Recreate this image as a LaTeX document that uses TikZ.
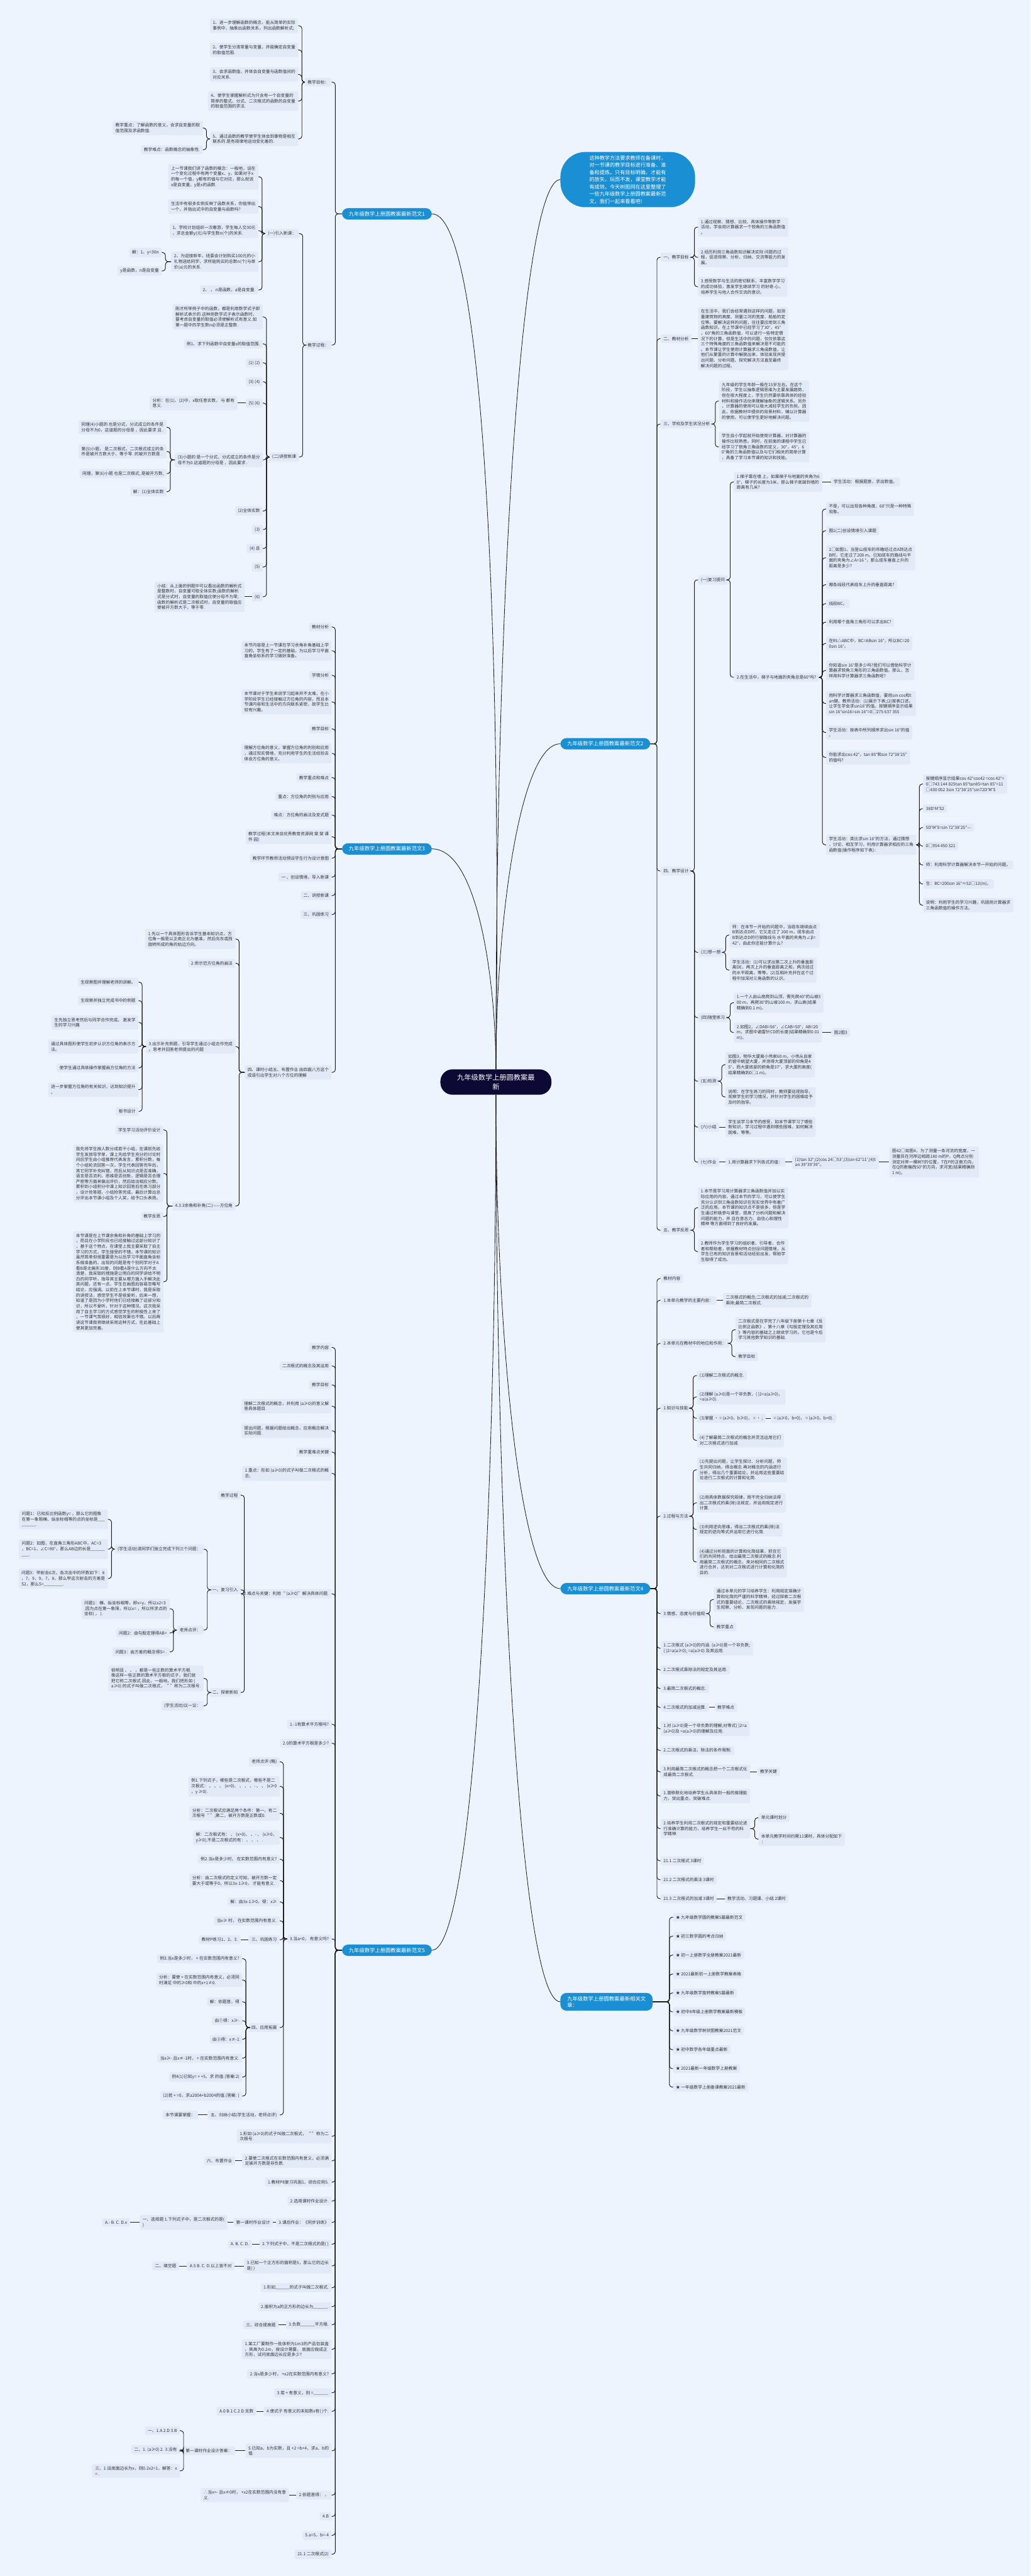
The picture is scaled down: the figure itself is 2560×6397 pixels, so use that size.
\documentclass[tikz,border=0pt]{standalone}
\usepackage{fontspec}
\setmainfont{Noto Sans CJK SC}
\usepackage{xcolor}
\usepackage{tikz}
\definecolor{bgc}{HTML}{EEF4FE}
\definecolor{leafc}{HTML}{E2EAF8}
\definecolor{brnc}{HTML}{1A8FD3}
\definecolor{rootc}{HTML}{0C0A35}
\definecolor{txtc}{HTML}{333333}
\definecolor{linec}{HTML}{1C1C1C}

\begin{document}
\begin{tikzpicture}[
  x=1pt, y=-1pt,
  font=\fontsize{10.5}{13.5}\selectfont,
  leaf/.style={fill=leafc, text=txtc, rounded corners=4pt, align=left, inner xsep=7pt, inner ysep=6pt},
  lft/.style={leaf, anchor=east},
  rgt/.style={leaf, anchor=west},
  brn/.style={fill=brnc, text=white, rounded corners=15pt, inner xsep=17pt, inner ysep=8pt, font=\fontsize{13}{16}\selectfont},
  rootbox/.style={fill=rootc, text=white, rounded corners=30pt, align=center, minimum width=276pt, minimum height=63pt, inner sep=4pt, font=\fontsize{17.5}{24}\selectfont},
  note/.style={fill=brnc, text=white, rounded corners=62pt, align=left, inner xsep=72pt, inner ysep=8.5pt, font=\fontsize{12.7}{18}\selectfont},
  lnk/.style={draw=linec, line width=1.5pt, rounded corners=7pt},
  crv/.style={draw=linec, line width=1.3pt},
]
\fill[bgc] (0,0) rectangle (2560,6397);
\useasboundingbox (0,0) rectangle (2560,6397);

\node[rootbox] (root) at (1232,2687) {九年级数学上册圆教案最\\新};
\node[note, anchor=west] (desc) at (1392,446) {这种教学方法要求教师在备课时，\\对一节课的教学目标进行准备、准\\备和提炼。只有目标明确，才能有\\的放矢，玩而不发，课堂教学才能\\有成效。今天树图网在这里整理了\\一些九年级数学上册圆教案最新范\\文，我们一起来看看吧!};
\node[brn, anchor=east] (b1) at (1073,531) {九年级数学上册圆教案最新范文1};
\node[brn, anchor=west] (b2) at (1392,1847) {九年级数学上册圆教案最新范文2};
\node[brn, anchor=east] (b3) at (1073,2108) {九年级数学上册圆教案最新范文3};
\node[brn, anchor=west] (b4) at (1392,3945) {九年级数学上册圆教案最新范文4};
\node[brn, anchor=east] (b5) at (1073,4843) {九年级数学上册圆教案最新范文5};
\node[brn, anchor=west, align=left] (rel) at (1392,4971) {九年级数学上册圆教案最新相关文\\章：};

\draw[crv] (desc.west) .. controls (1300,446) and (1232,1400) .. (root.north);
\draw[crv] (b1.east) .. controls (1210,531) and (1245,1700) .. (root.north);
\draw[crv] (b2.west) .. controls (1290,1847) and (1232,2300) .. (root.north);
\draw[crv] (b3.east) .. controls (1190,2108) and (1232,2450) .. (root.north);
\draw[crv] (b4.west) .. controls (1290,3945) and (1232,3300) .. (root.south);
\draw[crv] (rel.west) .. controls (1290,4971) and (1232,3800) .. (root.south);
\draw[crv] (b5.east) .. controls (1180,4843) and (1232,3700) .. (root.south);

\node[lft] (b1g) at (824,204) {教学目标：};
\node[lft] (b1p) at (824,857) {教学过程：};
\node[lft] (b1g1) at (741,64) {1、进一步理解函数的概念，能从简单的实际\\事例中，抽象出函数关系，列出函数解析式;};
\node[lft] (b1g2) at (741,124) {2、使学生分清常量与变量，并能确定自变量\\的取值范围.};
\node[lft] (b1g3) at (741,185) {3、会求函数值，并体会自变量与函数值间的\\对应关系.};
\node[lft] (b1g4) at (741,251) {4、使学生掌握解析式为只含有一个自变量的\\简单的整式、分式、二次根式的函数的自变量\\的取值范围的求法.};
\node[lft] (b1g5) at (741,345) {5、通过函数的教学使学生体会到事物是相互\\联系的.是有规律地运动变化着的.};
\node[lft] (b1g5a) at (504,318) {教学重点：了解函数的意义，会求自变量的取\\值范围及求函数值.};
\node[lft] (b1g5b) at (504,372) {教学难点：函数概念的抽象性.};
\node[lft] (b1p1) at (743,580) {(一)引入新课：};
\node[lft] (b1p2) at (743,1135) {(二)讲授新课};
\node[lft] (b1p1a) at (642,439) {上一节课我们讲了函数的概念：一般地，设在\\一个变化过程中有两个变量x、y，如果对于x\\的每一个值，y都有的值与它对应，那么就说\\x是自变量，y是x的函数.};
\node[lft] (b1p1b) at (642,513) {生活中有很多实例反映了函数关系，你能举出\\一个，并指出式中的自变量与函数吗?};
\node[lft] (b1p1c) at (642,573) {1、学校计划组织一次春游，学生每人交30元\\，求总金额y(元)与学生数n(个)的关系.};
\node[lft] (b1p1d) at (642,650) {2、为迎接新年，班委会计划购买100元的小\\礼物送给同学，求所能购买的总数n(个)与单\\价(a)元的关系.};
\node[lft] (b1p1e) at (642,720) {2、 ， n是函数，a是自变量.};
\node[lft] (b1p1da) at (402,627) {解：1、y=30n};
\node[lft] (b1p1db) at (402,673) {y是函数，n是自变量};
\node[lft] (b1p2a) at (653,787) {刚才所举例子中的函数，都是利用数学式子即\\解析式表示的.这种用数学式子表示函数时，\\要考虑自变量的取值必须使解析式有意义.如\\第一题中的学生数n必须是正整数.};
\node[lft] (b1p2b) at (653,854) {例1、求下列函数中自变量x的取值范围.};
\node[lft] (b1p2c) at (653,901) {(1) (2)};
\node[lft] (b1p2d) at (653,948) {(3) (4)};
\node[lft] (b1p2e) at (653,1001) {(5) (6)};
\node[lft] (b1p2f) at (653,1142) {(3)小题的 是一个分式，分式成立的条件是分\\母不为0.这道题的分母是 ，因此要求 .};
\node[lft] (b1p2g) at (653,1269) {(2)全体实数};
\node[lft] (b1p2h) at (653,1315) {(3)};
\node[lft] (b1p2i) at (653,1362) {(4) 且};
\node[lft] (b1p2j) at (653,1408) {(5)};
\node[lft] (b1p2k) at (653,1482) {(6)};
\node[lft] (b1p2ex) at (590,1001) {分析：在(1)、(2)中，x取任意实数， 与 都有\\意义.};
\node[lft] (b1p2kx) at (608,1482) {小结：从上面的例题中可以看出函数的解析式\\是整数时，自变量可取全体实数;函数的解析\\式是分式时，自变量的取值应使分母不为零;\\函数的解析式是二次根式时，自变量的取值应\\使被开方数大于、等于零.};
\node[lft] (b1p2fa) at (414,1061) {同理(4)小题的 也是分式，分式成立的条件是\\分母不为0，这道题的分母是 ，因此要求 且 .};
\node[lft] (b1p2fb) at (414,1121) {第(5)小题， 是二次根式，二次根式成立的条\\件是被开方数大于、等于零. 的被开方数是 .};
\node[lft] (b1p2fc) at (414,1176) {同理，第(6)小题 也是二次根式, 是被开方数,};
\node[lft] (b1p2fd) at (414,1221) {解：(1)全体实数};

\foreach \c in {b1g,b1p} \draw[lnk] (b1.west) -| ([xshift=9pt]\c.east) -- (\c.east);
\foreach \c in {b1g1,b1g2,b1g3,b1g4,b1g5} \draw[lnk] (b1g.west) -| ([xshift=9pt]\c.east) -- (\c.east);
\foreach \c in {b1g5a,b1g5b} \draw[lnk] (b1g5.west) -| ([xshift=9pt]\c.east) -- (\c.east);
\foreach \c in {b1p1,b1p2} \draw[lnk] (b1p.west) -| ([xshift=9pt]\c.east) -- (\c.east);
\foreach \c in {b1p1a,b1p1b,b1p1c,b1p1d,b1p1e} \draw[lnk] (b1p1.west) -| ([xshift=9pt]\c.east) -- (\c.east);
\foreach \c in {b1p1da,b1p1db} \draw[lnk] (b1p1d.west) -| ([xshift=9pt]\c.east) -- (\c.east);
\foreach \c in {b1p2a,b1p2b,b1p2c,b1p2d,b1p2e,b1p2f,b1p2g,b1p2h,b1p2i,b1p2j,b1p2k} \draw[lnk] (b1p2.west) -| ([xshift=9pt]\c.east) -- (\c.east);
\draw[lnk] (b1p2e.west) -- (b1p2ex.east);
\draw[lnk] (b1p2k.west) -- (b1p2kx.east);
\foreach \c in {b1p2fa,b1p2fb,b1p2fc,b1p2fd} \draw[lnk] (b1p2f.west) -| ([xshift=9pt]\c.east) -- (\c.east);

\node[lft] (b3a) at (824,1557) {教材分析};
\node[lft] (b3b) at (824,1616) {本节内容是上一节课在学习余角补角基础上学\\习的，学生有了一定的基础，为以后学习平面\\直角坐标系的学习做好准备。};
\node[lft] (b3c) at (824,1677) {学情分析};
\node[lft] (b3d) at (824,1743) {本节课对于学生来说学习起来并不太难，在小\\学阶段学生已经接触过方位角的内容，而且本\\节课内容和生活中的方向联系紧密，故学生比\\较有兴趣。};
\node[lft] (b3e) at (824,1810) {教学目标};
\node[lft] (b3f) at (824,1871) {理解方位角的意义，掌握方位角的判别和应用\\，通过现实情境，充分利用学生的生活经验去\\体会方位角的意义。};
\node[lft] (b3g) at (824,1931) {教学重点和难点};
\node[lft] (b3h) at (824,1978) {重点：方位角的判别与应用};
\node[lft] (b3i) at (824,2024) {难点：方位角的画法及变式题};
\node[lft] (b3j) at (824,2078) {教学过程(本文来自优秀教育资源网 斐 斐 课\\件 园)};
\node[lft] (b3k) at (824,2131) {教学环节教师活动预设学生行为设计意图};
\node[lft] (b3l) at (824,2178) {一 、创设情境，导入新课};
\node[lft] (b3m) at (824,2224) {二、讲授新课};
\node[lft] (b3n) at (824,2271) {三、巩固练习};
\node[lft] (b3o) at (824,2663) {四、课时小结五、布置作业 由四面八方这个\\成语引出学生对八个方位的理解};
\node[lft] (b3o1) at (585,2332) {1.先以一个具体图形告诉学生基本知识点，方\\位角一般是以正南正北为基准，然后向东或西\\旋转所成的角的始边方向。};
\node[lft] (b3o2) at (585,2392) {2.师示范方位角的画法};
\node[lft] (b3o3) at (585,2599) {3.出示补充例题，引导学生通过小组合作完成\\。思考并回答老师提出的问题};
\node[lft] (b3o4) at (585,2995) {4.3.3余角和补角(二)——方位角};
\node[lft] (b3o3a) at (344,2439) {生观察图并理解老师的讲解。};
\node[lft] (b3o3b) at (344,2485) {生观察并独立完成书中的例题};
\node[lft] (b3o3c) at (344,2539) {生先独立思考然后与同学合作完成。 激发学\\生的学习兴趣};
\node[lft] (b3o3d) at (344,2599) {通过具体图形使学生初步认识方位角的表示方\\法。};
\node[lft] (b3o3e) at (344,2652) {使学生通过具体操作掌握画方位角的方法};
\node[lft] (b3o3f) at (344,2706) {进一步掌握方位角的有关知识，达到知识提升\\。};
\node[lft] (b3o3g) at (344,2760) {板书设计};
\node[lft] (b3o4a) at (406,2806) {学生学习活动评价设计};
\node[lft] (b3o4b) at (406,2914) {我先将学生按人数分成若干小组，在课前先给\\学生发放导学单，课上先给学生充分的讨论时\\间后学生由小组推荐代表发言，累积分数，每\\个小组轮流回答一次，学生代表回答完毕后，\\其它同学补充纠错，然后从知识点是否准确，\\语言是否流利，思维是否创新，逻辑是否合理\\严密等方面来做出评价，然后给出相应分数。\\累积到小组积分中课上知识回答后在练习部分\\，设计抢答题，小组抢答完成。最后计算出总\\分评出本节课小组及个人奖，给予口头表扬。};
\node[lft] (b3o4c) at (406,3021) {教学反思};
\node[lft] (b3o4d) at (406,3183) {本节课是在上节课余角和补角的基础上学习的\\，而且在小学阶段也已经接触过这部分知识了\\，基于这个特点，在课堂上我主要采取了自主\\学习的方式，学生接受的不错，本节课的知识\\虽然简单但很重要是为以后学习平面直角坐标\\系做准备的。出现的问题是有个别同学对于A\\看B是北偏东30度，则B看A是什么方向不太\\清楚，我采取的措施是让明白的同学讲给不明\\白的同学听，指导其主要从哪方面入手解决此\\类问题，还有一点，学生在画图后容易忽略写\\结论，应强调。以前在上本节课时，我是采取\\的讲授法，感觉学生不是很爱听，后来一想，\\知道了是因为小学时他们已经接触了这部分知\\识，所以不爱听，针对于这种情况，这次我采\\用了自主学习的方式感觉学生的积极性上来了\\，一节课气氛很好，相信效果也不错。以后再\\讲这节课我将继续采用这种方式，在此基础上\\使其更加完善。};

\foreach \c in {b3a,b3b,b3c,b3d,b3e,b3f,b3g,b3h,b3i,b3j,b3k,b3l,b3m,b3n,b3o} \draw[lnk] (b3.west) -| ([xshift=9pt]\c.east) -- (\c.east);
\foreach \c in {b3o1,b3o2,b3o3,b3o4} \draw[lnk] (b3o.west) -| ([xshift=9pt]\c.east) -- (\c.east);
\foreach \c in {b3o3a,b3o3b,b3o3c,b3o3d,b3o3e,b3o3f,b3o3g} \draw[lnk] (b3o3.west) -| ([xshift=9pt]\c.east) -- (\c.east);
\foreach \c in {b3o4a,b3o4b,b3o4c,b3o4d} \draw[lnk] (b3o4.west) -| ([xshift=9pt]\c.east) -- (\c.east);

\node[rgt] (b2a) at (1641,639) {一、教学目标};
\node[rgt] (b2b) at (1641,841) {二、教材分析};
\node[rgt] (b2c) at (1641,1053) {三、学校及学生状况分析};
\node[rgt] (b2d) at (1641,2163) {四、教学设计};
\node[rgt] (b2e) at (1641,3055) {五、教学反思};
\node[rgt] (b2a1) at (1734,564) {1.通过观察、猜想、比较、具体操作等数学\\活动，学会用计算器求一个锐角的三角函数值\\。};
\node[rgt] (b2a2) at (1734,639) {2.经历利用三角函数知识解决实际 问题的过\\程，促进观察、分析、归纳、交流等能力的发\\展。};
\node[rgt] (b2a3) at (1734,712) {3.感受数学与生活的密切联系，丰富数学学习\\的成功体验，激发学生继续学习 的好奇 心，\\培养学生与他人合作交流的意识。};
\node[rgt] (b2b1) at (1734,841) {在生活中，我们会经常遇到这样的问题，如测\\量建筑物的高度、测量江河的宽度、船舶的定\\位等。要解决这样的问题，往往要应用到三角\\函数知识。在上节课中已经学习了30°，45°\\，60°角的三角函数值，可以进行一些特定情\\况下的计算，但是生活中的问题，仅仅依靠这\\三个特殊角度的三角函数值来解决是不可能的\\。本节课让学生使用计算器求三角函数值，让\\他们从繁重的计算中解脱出来，体验发现并提\\ 出问题、分析问题、探究解决方法直至最终\\解决问题的过程。};
\node[rgt] (b2c1) at (1786,996) {九年级的学生年龄一般在15岁左右。在这个\\阶段，学生以抽象逻辑思维为主要发展趋势，\\但在很大程度上，学生仍然要依靠具体的经验\\材料和操作活动来理解抽象的逻辑关系。另外\\，计算器的使用可以极大减轻学生的负担。因\\此，依据教材中提供的背景材料，辅以计算器\\的使用，可以使学生更好地解决问题。};
\node[rgt] (b2c2) at (1786,1110) {学生自小学起就开始使用计算器，对计算器的\\操作比较熟悉。同时，在前面的课程中学生已\\经学习了锐角三角函数的定义，30°，45°，6\\0°角的三角函数值以及与它们相关的简单计算\\，具备了学习本节课的知识和技能。};
\node[rgt] (b2d1) at (1734,1440) {(一)复习提问};
\node[rgt] (b2d3) at (1734,2365) {(三)想一想};
\node[rgt] (b2d4) at (1734,2527) {(四)随堂练习};
\node[rgt] (b2d5) at (1734,2685) {(五)检测};
\node[rgt] (b2d6) at (1734,2799) {(六)小结};
\node[rgt] (b2d7) at (1734,2886) {(七)作业};
\node[rgt] (b2d1a) at (1823,1197) {1.梯子靠在墙 上，如果梯子与地面的夹角为6\\0°，梯子的长度为3米，那么梯子底端到墙的\\距离有几米?};
\node[rgt] (b2d1ax) at (2064,1197) {学生活动：根据题意，求出数值。};
\node[rgt] (b2d1b) at (1823,1682) {2.在生活中，梯子与地面的夹角总是60°吗?};
\node[rgt] (b2q1) at (2052,1264) {不是，可以出现各种角度，60°只是一种特殊\\现象。};
\node[rgt] (b2q2) at (2052,1318) {图1(二)创设情境引入课题};
\node[rgt] (b2q3) at (2052,1385) {1□如图1，当登山缆车的吊箱经过点A到达点\\B时，它走过了200 m。已知缆车的路线与平\\面的夹角为∠A=16 °，那么缆车垂直上升的\\距离是多少?};
\node[rgt] (b2q4) at (2052,1452) {哪条线段代表缆车上升的垂直距离?};
\node[rgt] (b2q5) at (2052,1499) {线段BC。};
\node[rgt] (b2q6) at (2052,1545) {利用哪个直角三角形可以求出BC?};
\node[rgt] (b2q7) at (2052,1598) {在Rt△ABC中，BC=ABsin 16°，所以BC=20\\0sin 16°。};
\node[rgt] (b2q8) at (2052,1665) {你知道sin 16°是多少吗?我们可以借助科学计\\算器求锐角三角形的三角函数值。那么，怎\\样用科学计算器求三角函数呢?};
\node[rgt] (b2q9) at (2052,1747) {用科学计算器求三角函数值，要用sin cos和t\\an键。教师活动：(1)展示下表;(2)按表口述。\\让学生学会求sin16°的值。按键顺序显示结果\\sin 16°sin16=sin 16°=0□275 637 355};
\node[rgt] (b2q10) at (2052,1819) {学生活动：按表中所列顺序求出sin 16°的值\\。};
\node[rgt] (b2q11) at (2052,1881) {你能求出cos 42°，tan 85°和sin 72°38′25″\\的值吗?};
\node[rgt] (b2q12) at (2052,2098) {学生活动：类比求sin 16°的方法，通过猜想\\、讨论、相互学习，利用计算器求相应的三角\\函数值(操作程序如下表)：};
\node[rgt] (b2s1) at (2293,1947) {按键顺序显示结果cos 42°cos42 =cos 42°=\\0□743 144 825tan 85°tan85=tan 85°=11\\□430 052 3sin 72°38′25″sin72D′M′S};
\node[rgt] (b2s2) at (2293,2008) {38D′M′S2};
\node[rgt] (b2s3) at (2293,2055) {5D′M′S=sin 72°38′25″—};
\node[rgt] (b2s4) at (2293,2101) {0□954 450 321};
\node[rgt] (b2s5) at (2293,2148) {师：利用科学计算器解决本节一开始的问题。};
\node[rgt] (b2s6) at (2293,2195) {生：BC=200sin 16°≈52□12(m)。};
\node[rgt] (b2s7) at (2293,2248) {说明：利用学生的学习兴趣，巩固用计算器求\\三角函数值的操作方法。};
\node[rgt] (b2d3a) at (1812,2322) {师：在本节一开始的问题中，当缆车继续由点\\B到达点D时，它又走过了 200 m，缆车由点\\B到达点D的行驶路线与 水平面的夹角为∠β=\\42°，由此你还能计算什么?};
\node[rgt] (b2d3b) at (1812,2409) {学生活动：(1)可以求出第二次上升的垂直距\\离DE，两次上升的垂直距离之和，两次经过\\的水平距离，等等。(2)互相补充并在这个过\\程中加深对三角函数的认识。};
\node[rgt] (b2d4a) at (1823,2490) {1.一个人由山底爬到山顶，需先爬40°的山坡3\\00 m，再爬30°的山坡100 m，求山高(结果\\精确到0.1 m)。};
\node[rgt] (b2d4b) at (1823,2564) {2.如图2，∠DAB=56°，∠CAB=50°，AB=20\\m，求图中避雷针CD的长度(结果精确到0.01\\m)。};
\node[rgt] (b2d4bx) at (2065,2564) {图2图3};
\node[rgt] (b2d5a) at (1802,2644) {如图3，物华大厦离小伟家60 m，小伟从自家\\的窗中眺望大厦，并测得大厦顶部的仰角是4\\5°，而大厦底部的俯角是37°，求大厦的高度(\\结果精确到0□1 m)。};
\node[rgt] (b2d5b) at (1802,2724) {说明：在学生练习的同时，教师要巡视指导，\\观察学生的学习情况，并针对学生的困难给予\\及时的指导。};
\node[rgt] (b2d6a) at (1802,2799) {学生谈学习本节的感受，如本节课学习了哪些\\新知识，学习过程中遇到哪些困难，如何解决\\困难，等等。};
\node[rgt] (b2d7a) at (1802,2886) {1.用计算器求下列各式的值：};
\node[rgt] (b2d7b) at (1968,2886) {(1)tan 32°;(2)cos 24□53′;(3)sin 62°11′;(4)t\\an 39°39′39″。};
\node[rgt] (b2d7c) at (2209,2886) {图42□如图4，为了测量一条河流的宽度，一\\测量员在河岸边相距180 m的P，Q两点分别\\测定对岸一棵树T的位置，T在P的正南方向，\\在Q的南偏西50°的方向，求河宽(结果精确到\\1 m)。};
\node[rgt] (b2e1) at (1734,2999) {1.本节是学习用计算器求三角函数值并加以实\\际应用的内容，通过本节的学习，可以使学生\\充分认识到三角函数知识在现实世界中有着广\\泛的应用。本节课的知识点不是很多，但是学\\生通过积极参与课堂，提高了分析问题和解决\\问题的能力，并 且在意志力、自信心和理性\\精神 等方面得到了良好的发展。};
\node[rgt] (b2e2) at (1734,3108) {2.教师作为学生学习的组织者、引导者、合作\\者和帮助者，依据教材特点创设问题情境，从\\学生已有的知识背景和活动经验出发，帮助学\\生取得了成功。};

\foreach \c in {b2a,b2b,b2c,b2d,b2e} \draw[lnk] (b2.east) -| ([xshift=-9pt]\c.west) -- (\c.west);
\foreach \c in {b2a1,b2a2,b2a3} \draw[lnk] (b2a.east) -| ([xshift=-9pt]\c.west) -- (\c.west);
\draw[lnk] (b2b.east) -- (b2b1.west);
\foreach \c in {b2c1,b2c2} \draw[lnk] (b2c.east) -| ([xshift=-9pt]\c.west) -- (\c.west);
\foreach \c in {b2d1,b2d3,b2d4,b2d5,b2d6,b2d7} \draw[lnk] (b2d.east) -| ([xshift=-9pt]\c.west) -- (\c.west);
\foreach \c in {b2d1a,b2d1b} \draw[lnk] (b2d1.east) -| ([xshift=-9pt]\c.west) -- (\c.west);
\draw[lnk] (b2d1a.east) -- (b2d1ax.west);
\foreach \c in {b2q1,b2q2,b2q3,b2q4,b2q5,b2q6,b2q7,b2q8,b2q9,b2q10,b2q11,b2q12} \draw[lnk] (b2d1b.east) -| ([xshift=-9pt]\c.west) -- (\c.west);
\foreach \c in {b2s1,b2s2,b2s3,b2s4,b2s5,b2s6,b2s7} \draw[lnk] (b2q12.east) -| ([xshift=-9pt]\c.west) -- (\c.west);
\foreach \c in {b2d3a,b2d3b} \draw[lnk] (b2d3.east) -| ([xshift=-9pt]\c.west) -- (\c.west);
\foreach \c in {b2d4a,b2d4b} \draw[lnk] (b2d4.east) -| ([xshift=-9pt]\c.west) -- (\c.west);
\draw[lnk] (b2d4b.east) -- (b2d4bx.west);
\foreach \c in {b2d5a,b2d5b} \draw[lnk] (b2d5.east) -| ([xshift=-9pt]\c.west) -- (\c.west);
\draw[lnk] (b2d6.east) -- (b2d6a.west);
\draw[lnk] (b2d7.east) -- (b2d7a.west);
\draw[lnk] (b2d7a.east) -- (b2d7b.west);
\draw[lnk] (b2d7b.east) -- (b2d7c.west);
\foreach \c in {b2e1,b2e2} \draw[lnk] (b2e.east) -| ([xshift=-9pt]\c.west) -- (\c.west);

\node[rgt] (b4a) at (1641,3175) {教材内容};
\node[rgt] (b4b) at (1641,3229) {1.本单元教学的主要内容：};
\node[rgt] (b4c) at (1641,3336) {2.本单元在教材中的地位和作用：};
\node[rgt] (b4d) at (1641,3497) {1.知识与技能};
\node[rgt] (b4e) at (1641,3765) {2.过程与方法};
\node[rgt] (b4f) at (1641,4007) {3.情感、态度与价值观};
\node[rgt] (b4g) at (1641,4093) {1.二次根式 (a≥0)的内涵. (a≥0)是一个非负数;\\( )2=a(a≥0); =a(a≥0) 及其运用.};
\node[rgt] (b4h) at (1641,4147) {2.二次根式乘除法的规定及其运用.};
\node[rgt] (b4i) at (1641,4193) {3.最简二次根式的概念.};
\node[rgt] (b4j) at (1641,4240) {4.二次根式的加减运算.};
\node[rgt] (b4k) at (1641,4293) {1.对 (a≥0)是一个非负数的理解;对等式( )2=a\\(a≥0)及 =a(a≥0)的理解及应用.};
\node[rgt] (b4l) at (1641,4347) {2.二次根式的乘法、除法的条件限制.};
\node[rgt] (b4m) at (1641,4400) {3.利用最简二次根式的概念把一个二次根式化\\成最简二次根式.};
\node[rgt] (b4n) at (1641,4460) {1.潜移默化地培养学生从具体到一般的推理能\\力，突出重点，突破难点.};
\node[rgt] (b4o) at (1641,4541) {2.培养学生利用二次根式的规定和重要结论进\\行准确计算的能力，培养学生一丝不苟的科\\学精神.};
\node[rgt] (b4p) at (1641,4621) {21.1 二次根式 3课时};
\node[rgt] (b4q) at (1641,4668) {21.2 二次根式的乘法 3课时};
\node[rgt] (b4r) at (1641,4715) {21.3 二次根式的加减 3课时};
\node[rgt] (b4bx) at (1796,3229) {二次根式的概念;二次根式的加减;二次根式的\\乘除;最简二次根式.};
\node[rgt] (b4c1) at (1827,3302) {二次根式是在学完了八年级下册第十七章《反\\比例正函数》、第十八章《勾股定理及其应用\\》等内容的基础之上继续学习的，它也是今后\\学习其他数学知识的基础.};
\node[rgt] (b4c2) at (1827,3369) {教学目标};
\node[rgt] (b4d1) at (1731,3416) {(1)理解二次根式的概念.};
\node[rgt] (b4d2) at (1731,3469) {(2)理解 (a≥0)是一个非负数，( )2=a(a≥0)，\\=a(a≥0).};
\node[rgt] (b4d3) at (1731,3522) {(3)掌握 · = (a≥0，b≥0)， = · ;};
\node[rgt] (b4d3x) at (1915,3522) {= (a≥0，b>0)， = (a≥0，b>0).};
\node[rgt] (b4d4) at (1731,3577) {(4)了解最简二次根式的概念并灵活运用它们\\对二次根式进行加减.};
\node[rgt] (b4e1) at (1731,3650) {(1)先提出问题，让学生探讨、分析问题，师\\生共同归纳，得出概念.再对概念的内涵进行\\分析，得出几个重要结论，并运用这些重要结\\论进行二次根式的计算和化简.};
\node[rgt] (b4e2) at (1731,3732) {(2)用具体数据探究规律，用不完全归纳法得\\出二次根式的乘(除)法规定，并运用规定进行\\计算.};
\node[rgt] (b4e3) at (1731,3798) {(3)利用逆向思维，得出二次根式的乘(除)法\\规定的逆向等式并运用它进行化简.};
\node[rgt] (b4e4) at (1731,3879) {(4)通过分析前面的计算和化简结果，抓住它\\们的共同特点，给出最简二次根式的概念.利\\用最简二次根式的概念，来对相同的二次根式\\进行合并，达到对二次根式进行计算和化简的\\目的.};
\node[rgt] (b4f1) at (1773,3972) {通过本单元的学习培养学生：利用规定准确计\\算和化简的严谨的科学精神，经过探索二次根\\式的重要结论，二次根式的乘除规定，发展学\\生观察、分析、发现问题的能力.};
\node[rgt] (b4f2) at (1773,4040) {教学重点};
\node[rgt] (b4jx) at (1775,4240) {教学难点};
\node[rgt] (b4mx) at (1881,4400) {教学关键};
\node[rgt] (b4o1) at (1884,4514) {单元课时划分};
\node[rgt] (b4o2) at (1884,4567) {本单元教学时间约需11课时，具体分配如下\\：};
\node[rgt] (b4rx) at (1800,4715) {教学活动、习题课、小结 2课时};

\foreach \c in {b4a,b4b,b4c,b4d,b4e,b4f,b4g,b4h,b4i,b4j,b4k,b4l,b4m,b4n,b4o,b4p,b4q,b4r} \draw[lnk] (b4.east) -| ([xshift=-9pt]\c.west) -- (\c.west);
\draw[lnk] (b4b.east) -- (b4bx.west);
\foreach \c in {b4c1,b4c2} \draw[lnk] (b4c.east) -| ([xshift=-9pt]\c.west) -- (\c.west);
\foreach \c in {b4d1,b4d2,b4d3,b4d4} \draw[lnk] (b4d.east) -| ([xshift=-9pt]\c.west) -- (\c.west);
\draw[lnk] (b4d3.east) -- (b4d3x.west);
\foreach \c in {b4e1,b4e2,b4e3,b4e4} \draw[lnk] (b4e.east) -| ([xshift=-9pt]\c.west) -- (\c.west);
\foreach \c in {b4f1,b4f2} \draw[lnk] (b4f.east) -| ([xshift=-9pt]\c.west) -- (\c.west);
\draw[lnk] (b4j.east) -- (b4jx.west);
\draw[lnk] (b4m.east) -- (b4mx.west);
\foreach \c in {b4o1,b4o2} \draw[lnk] (b4o.east) -| ([xshift=-9pt]\c.west) -- (\c.west);
\draw[lnk] (b4r.east) -- (b4rx.west);

\node[rgt] (rel1) at (1672,4761) {★ 九年级数学圆的教案5篇最新范文};
\node[rgt] (rel2) at (1672,4808) {★ 初三数学圆的考点归纳};
\node[rgt] (rel3) at (1672,4855) {★ 初一上册数学全册教案2021最新};
\node[rgt] (rel4) at (1672,4902) {★ 2021最新初一上册数学教案表格};
\node[rgt] (rel5) at (1672,4949) {★ 九年级数学旋转教案5篇最新};
\node[rgt] (rel6) at (1672,4996) {★ 初中8年级上册数学教案最新模板};
\node[rgt] (rel7) at (1672,5043) {★ 九年级数学树状图教案2021范文};
\node[rgt] (rel8) at (1672,5090) {★ 初中数学各年级重点最新};
\node[rgt] (rel9) at (1672,5137) {★ 2021最新一年级数学上册教案};
\node[rgt] (rel10) at (1672,5183) {★ 一年级数学上册备课教案2021最新};
\foreach \c in {rel1,rel2,rel3,rel4,rel5,rel6,rel7,rel8,rel9,rel10} \draw[lnk] (rel.east) -| ([xshift=-9pt]\c.west) -- (\c.west);

\node[lft] (b5a) at (824,3346) {教学内容};
\node[lft] (b5b) at (824,3392) {二次根式的概念及其运用};
\node[lft] (b5c) at (824,3439) {教学目标};
\node[lft] (b5d) at (824,3492) {理解二次根式的概念，并利用 (a≥0)的意义解\\答具体题目.};
\node[lft] (b5e) at (824,3553) {提出问题，根据问题给出概念，应用概念解决\\实际问题.};
\node[lft] (b5f) at (824,3606) {教学重难点关键};
\node[lft] (b5g) at (824,3659) {1.重点：形如 (a≥0)的式子叫做二次根式的概\\念;};
\node[lft] (b5h) at (824,3958) {2.难点与关键：利用“ (a≥0)”解决具体问题.};
\node[lft] (b5i) at (824,4282) {1.-1有算术平方根吗?};
\node[lft] (b5j) at (824,4329) {2.0的算术平方根是多少?};
\node[lft] (b5k) at (824,4815) {3.当a<0，  有意义吗?};
\node[lft] (b5l) at (824,5305) {1.形如 (a≥0)的式子叫做二次根式，“ ”称为二\\次根号.};
\node[lft] (b5m) at (824,5366) {2.要使二次根式在实数范围内有意义，必须满\\足被开方数是非负数.};
\node[lft] (b5n) at (824,5419) {1.教材P8复习巩固1、综合应用5.};
\node[lft] (b5o) at (824,5466) {2.选用课时作业设计.};
\node[lft] (b5p) at (824,5519) {3.课后作业：《同步训练》};
\node[lft] (b5q) at (824,5573) {2.下列式子中，不是二次根式的是( )};
\node[lft] (b5r) at (824,5627) {3.已知一个正方形的面积是5，那么它的边长\\是( )};
\node[lft] (b5s) at (824,5681) {1.形如\_\_\_\_\_\_的式子叫做二次根式.};
\node[lft] (b5t) at (824,5728) {2.面积为a的正方形的边长为\_\_\_\_\_\_.};
\node[lft] (b5u) at (824,5773) {3.负数\_\_\_\_\_\_平方根.};
\node[lft] (b5v) at (824,5834) {1.某工厂要制作一批体积为1m3的产品包装盒\\，其高为0.2m，按设计需要， 底面应做成正\\方形，试问底面边长应是多少?};
\node[lft] (b5w) at (824,5895) {2.当x是多少时， +x2在实数范围内有意义?};
\node[lft] (b5x) at (824,5942) {3.若 + 有意义，则 =\_\_\_\_\_\_.};
\node[lft] (b5y) at (824,5988) {4.使式子 有意义的未知数x有( )个.};
\node[lft] (b5z) at (824,6086) {5.已知a、b为实数，且 +2 =b+4，求a、b的\\值.};
\node[lft] (b5za) at (824,6196) {2.依题意得：  ，};
\node[lft] (b5zb) at (824,6249) {4.B};
\node[lft] (b5zc) at (824,6296) {5.a=5，b=-4};
\node[lft] (b5zd) at (824,6343) {21.1 二次根式(2)};

\node[lft] (b5h1) at (598,3713) {教学过程};
\node[lft] (b5h2) at (598,3948) {一、复习引入};
\node[lft] (b5h3) at (598,4203) {二、探索新知};
\node[lft] (b5h2a) at (506,3847) {(学生活动)请同学们独立完成下列三个问题：};
\node[lft] (b5h2b) at (506,4048) {老师点评：};
\node[lft] (b5h2a1) at (268,3773) {问题1：已知反比例函数y= ，那么它的图象\\在第一象限横、纵坐标相等的点的坐标是\_\_\_\\\_\_\_\_\_\_.};
\node[lft] (b5h2a2) at (268,3847) {问题2：如图，在直角三角形ABC中，AC=3\\，BC=1，∠C=90°，那么AB边的长是\_\_\_\_\_\_\\\_\_\_.};
\node[lft] (b5h2a3) at (268,3920) {问题3：甲射击6次，各次击中的环数如下：8\\，7，9，9，7，8，那么甲这次射击的方差是\\S2，那么S=\_\_\_\_\_\_\_\_.};
\node[lft] (b5h2b1) at (422,3995) {问题1：横、纵坐标相等，即x=y，所以x2=3\\.因为点在第一象限，所以x= ，所以所求点的\\坐标( ， ).};
\node[lft] (b5h2b2) at (422,4055) {问题2：由勾股定理得AB=};
\node[lft] (b5h2b3) at (422,4102) {问题3：由方差的概念得S= .};
\node[lft] (b5h3a) at (506,4168) {很明显 、 、 ，都是一些正数的算术平方根.\\像这样一些正数的算术平方根的式子，我们就\\把它称二次根式.因此，一般地，我们把形如 (\\a≥0) 的式子叫做二次根式，“ ”称为二次根号.};
\node[lft] (b5h3b) at (506,4236) {(学生活动)议一议：};

\node[lft] (b5k1) at (695,4375) {老师点评:(略)};
\node[lft] (b5k2) at (695,4436) {例1.下列式子，哪些是二次根式，哪些不是二\\次根式： 、 、 、 (x>0)、 、 、 、- 、 、 (x≥0\\，y ≥0).};
\node[lft] (b5k3) at (695,4503) {分析：二次根式应满足两个条件：第一，有二\\次根号“ ”;第二，被开方数是正数或0.};
\node[lft] (b5k4) at (695,4563) {解：二次根式有： 、 (x>0)、 、- 、 (x≥0，\\y≥0);不是二次根式的有： 、 、 、 .};
\node[lft] (b5k5) at (695,4617) {例2.当x是多少时， 在实数范围内有意义?};
\node[lft] (b5k6) at (695,4670) {分析：由二次根式的定义可知，被开方数一定\\要大于或等于0，所以3x-1≥0， 才能有意义.};
\node[lft] (b5k7) at (695,4723) {解：由3x-1≥0，得：x≥};
\node[lft] (b5k8) at (695,4770) {当x≥ 时， 在实数范围内有意义.};
\node[lft] (b5k9) at (695,4817) {三、巩固练习};
\node[lft] (b5k10) at (695,5035) {四、应用拓展};
\node[lft] (b5k11) at (695,5252) {五、归纳小结(学生活动，老师点评)};
\node[lft] (b5k9x) at (598,4817) {教材P练习1、2、3.};
\node[lft] (b5k11x) at (492,5252) {本节课要掌握：};
\node[lft] (b5t1) at (602,4864) {例3.当x是多少时， + 在实数范围内有意义?};
\node[lft] (b5t2) at (602,4917) {分析：要使 + 在实数范围内有意义，必须同\\时满足 中的≥0和 中的x+1≠0.};
\node[lft] (b5t3) at (602,4971) {解：依题意，得};
\node[lft] (b5t4) at (602,5018) {由①得：x≥-};
\node[lft] (b5t5) at (602,5064) {由②得：x≠-1};
\node[lft] (b5t6) at (602,5111) {当x≥- 且x≠-1时， + 在实数范围内有意义.};
\node[lft] (b5t7) at (602,5158) {例4(1)已知y= + +5，求 的值.(答案:2)};
\node[lft] (b5t8) at (602,5205) {(2)若 + =0，求a2004+b2004的值.(答案: )};

\node[lft] (b5mx) at (584,5366) {六、布置作业};
\node[lft] (b5p1) at (678,5519) {第一课时作业设计};
\node[lft] (b5p2) at (565,5519) {一、选择题 1.下列式子中，是二次根式的是(\\)};
\node[lft] (b5p3) at (323,5519) {A.- B. C. D.x};
\node[lft] (b5qx) at (626,5573) {A. B. C. D.};
\node[lft] (b5r1) at (583,5627) {A.5 B. C. D.以上皆不对};
\node[lft] (b5r2) at (445,5627) {二、填空题};
\node[lft] (b5ux) at (692,5773) {三、综合提高题};
\node[lft] (b5yx) at (637,5988) {A.0 B.1 C.2 D.无数};
\node[lft] (b5z1) at (584,6086) {第一课时作业设计答案：};
\node[lft] (b5z1a) at (447,6036) {一、1.A 2.D 3.B};
\node[lft] (b5z1b) at (447,6083) {二、1. (a≥0) 2. 3.没有};
\node[lft] (b5z1c) at (447,6136) {三、1.设底面边长为x，则0.2x2=1，解答：x\\= .};
\node[lft] (b5zax) at (718,6196) {∴当x>- 且x≠0时， +x2在实数范围内没有意\\义.};

\foreach \c in {b5a,b5b,b5c,b5d,b5e,b5f,b5g,b5h,b5i,b5j,b5k,b5l,b5m,b5n,b5o,b5p,b5q,b5r,b5s,b5t,b5u,b5v,b5w,b5x,b5y,b5z,b5za,b5zb,b5zc,b5zd} \draw[lnk] (b5.west) -| ([xshift=9pt]\c.east) -- (\c.east);
\foreach \c in {b5h1,b5h2,b5h3} \draw[lnk] (b5h.west) -| ([xshift=9pt]\c.east) -- (\c.east);
\foreach \c in {b5h2a,b5h2b} \draw[lnk] (b5h2.west) -| ([xshift=9pt]\c.east) -- (\c.east);
\foreach \c in {b5h2a1,b5h2a2,b5h2a3} \draw[lnk] (b5h2a.west) -| ([xshift=9pt]\c.east) -- (\c.east);
\foreach \c in {b5h2b1,b5h2b2,b5h2b3} \draw[lnk] (b5h2b.west) -| ([xshift=9pt]\c.east) -- (\c.east);
\foreach \c in {b5h3a,b5h3b} \draw[lnk] (b5h3.west) -| ([xshift=9pt]\c.east) -- (\c.east);
\foreach \c in {b5k1,b5k2,b5k3,b5k4,b5k5,b5k6,b5k7,b5k8,b5k9,b5k10,b5k11} \draw[lnk] (b5k.west) -| ([xshift=9pt]\c.east) -- (\c.east);
\draw[lnk] (b5k9.west) -- (b5k9x.east);
\draw[lnk] (b5k11.west) -- (b5k11x.east);
\foreach \c in {b5t1,b5t2,b5t3,b5t4,b5t5,b5t6,b5t7,b5t8} \draw[lnk] (b5k10.west) -| ([xshift=9pt]\c.east) -- (\c.east);
\draw[lnk] (b5m.west) -- (b5mx.east);
\draw[lnk] (b5p.west) -- (b5p1.east);
\draw[lnk] (b5p1.west) -- (b5p2.east);
\draw[lnk] (b5p2.west) -- (b5p3.east);
\draw[lnk] (b5q.west) -- (b5qx.east);
\draw[lnk] (b5r.west) -- (b5r1.east);
\draw[lnk] (b5r1.west) -- (b5r2.east);
\draw[lnk] (b5u.west) -- (b5ux.east);
\draw[lnk] (b5y.west) -- (b5yx.east);
\draw[lnk] (b5z.west) -- (b5z1.east);
\foreach \c in {b5z1a,b5z1b,b5z1c} \draw[lnk] (b5z1.west) -| ([xshift=9pt]\c.east) -- (\c.east);
\draw[lnk] (b5za.west) -- (b5zax.east);
\end{tikzpicture}
\end{document}
